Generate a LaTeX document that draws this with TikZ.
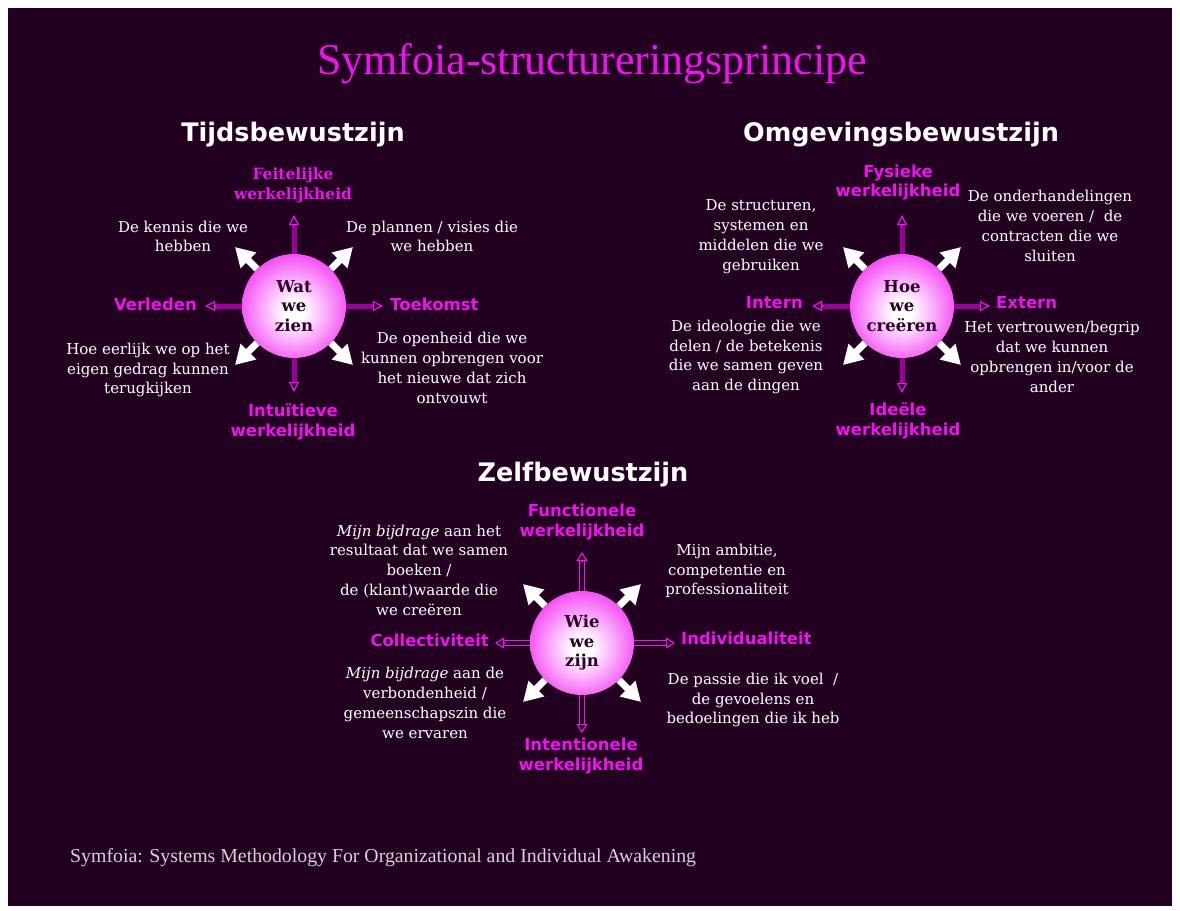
\documentclass[tikz,border=0pt]{standalone}
\usepackage{fontspec}
\setmainfont{DejaVu Serif}
\newfontfamily\labfont{DejaVu Sans}
\newfontfamily\titfont{Liberation Serif}
\usetikzlibrary{arrows.meta}
\definecolor{bgdark}{HTML}{220020}
\definecolor{mag}{HTML}{F010F0}
\definecolor{barpurple}{HTML}{9C009C}
\definecolor{spheremag}{HTML}{F000F0}
\definecolor{rimmag}{HTML}{C000C0}
\definecolor{spheretext}{HTML}{2A0026}
\definecolor{foot}{HTML}{D8D0D8}
\pgfdeclareradialshading{sph}{\pgfpoint{0bp}{-3bp}}{color(0bp)=(white); color(5bp)=(white); color(36bp)=(spheremag); color(47bp)=(spheremag); color(50bp)=(rimmag)}
\begin{document}
\begin{tikzpicture}[x=1pt,y=-1pt,
  sphere/.style={circle, minimum size=104pt, inner sep=0pt, shading=sph, align=center,
    font=\fontsize{16.5}{19.5}\selectfont\bfseries, text=spheretext},
  body/.style={align=center, text=white, font=\fontsize{15}{19.8}\selectfont, inner sep=0pt},
  axislab/.style={text=mag, font=\labfont\bfseries\fontsize{16.5}{19.5}\selectfont, align=center, inner sep=0pt},
  feitlab/.style={text=mag, font=\bfseries\fontsize{15.5}{19.5}\selectfont, align=center, inner sep=0pt},
  header/.style={text=white, font=\labfont\bfseries\fontsize{25.5}{30}\selectfont, inner sep=0pt},
  diagarrow/.style={white, line width=7pt, -{Triangle[length=19pt,width=21pt]}},
  solidbar/.style={barpurple, line width=5pt},
  dblbar/.style={draw=mag, line width=1.1pt, double=bgdark, double distance=3.5pt},
  opentip/.style={mag, line width=1.2pt, -{Triangle[open, length=10pt, width=10pt]}},
  opentipwide/.style={mag, line width=1.1pt, -{Triangle[open, length=9pt, width=11pt]}}
]
\useasboundingbox (0,0) rectangle (1180,910);
\fill[white] (0,0) rectangle (1180,910);
\fill[bgdark] (8,8) rectangle (1172,906);

% title
\node[text=mag, font=\titfont\fontsize{44}{50}\selectfont, inner sep=0pt] (title) at (592,64) {Symfoia-structureringsprincipe};

% headers
\node[header] (h1) at (293,135) {Tijdsbewustzijn};
\node[header] (h2) at (901,135) {Omgevingsbewustzijn};
\node[header] (h3) at (583,475) {Zelfbewustzijn};

% ===== Diagram 1 =====
\node[sphere] (s1) at (294,306) {Wat\\we\\zien};
\coordinate (e1n) at (294,215); \coordinate (b1n) at (294,225);
\coordinate (e1s) at (294,392); \coordinate (b1s) at (294,382);
\coordinate (e1w) at (205,306); \coordinate (b1w) at (215,306);
\coordinate (e1e) at (383,306); \coordinate (b1e) at (373,306);
\draw[solidbar] (s1.north) -- (b1n);
\draw[solidbar] (s1.south) -- (b1s);
\draw[solidbar] (s1.west) -- (b1w);
\draw[solidbar] (s1.east) -- (b1e);
\draw[opentip] (b1n) -- (e1n);
\draw[opentip] (b1s) -- (e1s);
\draw[opentip] (b1w) -- (e1w);
\draw[opentip] (b1e) -- (e1e);
\coordinate (d1nw) at (235,247); \coordinate (d1ne) at (353,247);
\coordinate (d1sw) at (235,365); \coordinate (d1se) at (353,365);
\draw[diagarrow] (s1.north west) -- (d1nw);
\draw[diagarrow] (s1.north east) -- (d1ne);
\draw[diagarrow] (s1.south west) -- (d1sw);
\draw[diagarrow] (s1.south east) -- (d1se);

\node[feitlab] (f1) at (293,185.5) {Feitelijke\\werkelijkheid};
\node[axislab] (i1) at (293,422) {Intuïtieve\\werkelijkheid};
\node[axislab, anchor=east] (v1) at (197,304) {Verleden};
\node[axislab, anchor=west] (t1) at (390,304) {Toekomst};
\node[body] (k1) at (183,236.5) {De kennis die we\\hebben};
\node[body] (p1) at (432,236.5) {De plannen / visies die\\we hebben};
\node[body] (o1) at (148,370) {Hoe eerlijk we op het\\eigen gedrag kunnen\\terugkijken};
\node[body] (n1) at (452,368) {De openheid die we\\kunnen opbrengen voor\\het nieuwe dat zich\\ontvouwt};

% ===== Diagram 2 =====
\node[sphere] (s2) at (902,306) {Hoe\\we\\creëren};
\coordinate (e2n) at (902,215); \coordinate (b2n) at (902,225);
\coordinate (e2s) at (902,393); \coordinate (b2s) at (902,383);
\coordinate (e2w) at (812,306); \coordinate (b2w) at (822,306);
\coordinate (e2e) at (990,306); \coordinate (b2e) at (980,306);
\draw[solidbar] (s2.north) -- (b2n);
\draw[solidbar] (s2.south) -- (b2s);
\draw[solidbar] (s2.west) -- (b2w);
\draw[solidbar] (s2.east) -- (b2e);
\draw[opentip] (b2n) -- (e2n);
\draw[opentip] (b2s) -- (e2s);
\draw[opentip] (b2w) -- (e2w);
\draw[opentip] (b2e) -- (e2e);
\coordinate (d2nw) at (843,247); \coordinate (d2ne) at (961,247);
\coordinate (d2sw) at (843,365); \coordinate (d2se) at (961,365);
\draw[diagarrow] (s2.north west) -- (d2nw);
\draw[diagarrow] (s2.north east) -- (d2ne);
\draw[diagarrow] (s2.south west) -- (d2sw);
\draw[diagarrow] (s2.south east) -- (d2se);

\node[axislab] (f2) at (898,182.5) {Fysieke\\werkelijkheid};
\node[axislab] (i2) at (898,421) {Ideële\\werkelijkheid};
\node[axislab, anchor=east] (v2) at (803,303) {Intern};
\node[axislab, anchor=west] (t2) at (996,303) {Extern};
\node[body] (k2) at (761,236.5) {De structuren,\\systemen en\\middelen die we\\gebruiken};
\node[body] (p2) at (1050,226) {De onderhandelingen\\die we voeren /\ \ de\\contracten die we\\sluiten};
\node[body] (o2) at (746,357) {De ideologie die we\\delen / de betekenis\\die we samen geven\\aan de dingen};
\node[body] (n2) at (1052,357) {Het vertrouwen/begrip\\dat we kunnen\\opbrengen in/voor de\\ander};

% ===== Diagram 3 =====
\node[sphere] (s3) at (582,643) {Wie\\we\\zijn};
\coordinate (e3n) at (582,552); \coordinate (b3n) at (582,561);
\coordinate (e3s) at (582,733); \coordinate (b3s) at (582,724);
\coordinate (e3w) at (495,643); \coordinate (b3w) at (504,643);
\coordinate (e3e) at (675,643); \coordinate (b3e) at (666,643);
\draw[dblbar] (s3.north) -- (b3n);
\draw[dblbar] (s3.south) -- (b3s);
\draw[dblbar] (s3.west) -- (b3w);
\draw[dblbar] (s3.east) -- (b3e);
\draw[opentipwide] (b3n) -- (e3n);
\draw[opentipwide] (b3s) -- (e3s);
\draw[opentipwide] (b3w) -- (e3w);
\draw[opentipwide] (b3e) -- (e3e);
\coordinate (d3nw) at (523,584); \coordinate (d3ne) at (641,584);
\coordinate (d3sw) at (523,702); \coordinate (d3se) at (641,702);
\draw[diagarrow] (s3.north west) -- (d3nw);
\draw[diagarrow] (s3.north east) -- (d3ne);
\draw[diagarrow] (s3.south west) -- (d3sw);
\draw[diagarrow] (s3.south east) -- (d3se);

\node[axislab] (f3) at (582,522) {Functionele\\werkelijkheid};
\node[axislab] (i3) at (581,756) {Intentionele\\werkelijkheid};
\node[axislab, anchor=east] (v3) at (489,640) {Collectiviteit};
\node[axislab, anchor=west] (t3) at (681,638) {Individualiteit};
\node[body] (k3) at (419,570) {\textit{Mijn bijdrage} aan het\\resultaat dat we samen\\boeken /\\de (klant)waarde die\\we creëren};
\node[body] (p3) at (727,571) {Mijn ambitie,\\competentie en\\professionaliteit};
\node[body] (o3) at (425,703) {\textit{Mijn bijdrage} aan de\\verbondenheid /\\gemeenschapszin die\\we ervaren};
\node[body] (n3) at (753,700) {De passie die ik voel\ \ /\\de gevoelens en\\bedoelingen die ik heb};

% footer
\node[text=foot, font=\titfont\fontsize{19.8}{23}\selectfont, anchor=west, inner sep=0pt] (foot) at (70,858) {Symfoia: Systems Methodology For Organizational and Individual Awakening};
\end{tikzpicture}
\end{document}
